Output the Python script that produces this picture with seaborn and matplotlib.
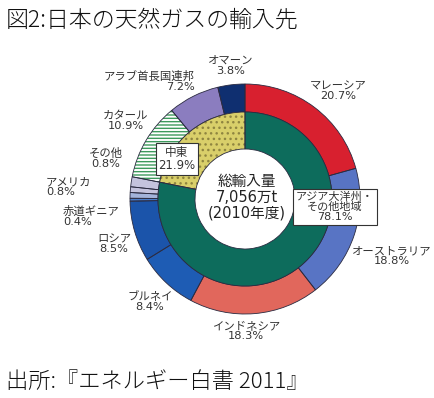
"""
日本の天然ガスの輸入先 (2010年度) — 二重ドーナツグラフ
"""

import matplotlib
matplotlib.use("Agg")
import matplotlib.pyplot as plt
import seaborn as sns

# ---- データ ----
regions = ["アジア大洋州・\nその他地域", "中東"]
region_share = [78.1, 21.9]

countries = ["マレーシア", "オーストラリア", "インドネシア", "ブルネイ", "ロシア",
             "赤道ギニア", "アメリカ", "その他",
             "カタール", "アラブ首長国連邦", "オマーン"]
country_share = [20.7, 18.8, 18.3, 8.4, 8.5, 0.4, 0.8, 0.8, 10.9, 7.2, 3.8]
n_asia = 8  # 先頭8か国がアジア大洋州・その他地域

total_label = "総輸入量\n7,056万t\n(2010年度)"
title = "図2:日本の天然ガスの輸入先"
source = "出所:『エネルギー白書 2011』"

# 表示されていない残り(地域合計と国別合計の差)
residual = round(region_share[0] - sum(country_share[:n_asia]), 1)
outer_vals = country_share[:n_asia] + [residual] + country_share[n_asia:]

# ---- スタイル ----
sns.set_theme(style="white")
plt.rcParams["font.family"] = ["Noto Sans CJK JP", "DejaVu Sans"]
lab_font = ["DejaVu Sans", "Noto Sans CJK JP"]   # 数字は幅広のDejaVuで

country_colors = ["#d8202f", "#5874c4", "#e1675c", "#1e5cb4", "#1b54aa",
                  "#4a7cc8", "#a3b3da", "#c4c3dd",
                  "#ffffff", "#8b7dbf", "#0f2f70"]
outer_colors = country_colors[:n_asia] + [country_colors[n_asia - 1]] + country_colors[n_asia:]
outer_hatch = [None] * len(outer_vals)
outer_hatch[n_asia + 1] = "-----"          # カタール
outer_hatch_col = ["none"] * len(outer_vals)
outer_hatch_col[n_asia + 1] = "#3d9a5c"

region_colors = ["#0d6c5c", "#d9cf6a"]

W, H = 435, 398
fig = plt.figure(figsize=(W / 100, H / 100), dpi=100)
ax = fig.add_axes([0, 0, 1, 1])
ax.axis("off")

cx, cy = 245, 199
r_out, r_mid, r_in = 115, 87, 50

# 外側リング (国別) — y軸反転のため startangle=-90, counterclock=True で12時から時計回り
wedges, _ = ax.pie(outer_vals, colors=outer_colors, radius=r_out, center=(cx, cy),
                   startangle=-90, counterclock=True, normalize=True,
                   wedgeprops=dict(width=r_out - r_mid, linewidth=0))
for w, h, hc in zip(wedges, outer_hatch, outer_hatch_col):
    if h:
        w.set_hatch(h)
        w.set_edgecolor(hc)
ax.pie(outer_vals, colors=["none"] * len(outer_vals), radius=r_out, center=(cx, cy),
       startangle=-90, counterclock=True, normalize=True,
       wedgeprops=dict(width=r_out - r_mid, linewidth=0.6, edgecolor="#2a2a40"))

# 内側リング (地域別)
iw, _ = ax.pie(region_share, colors=region_colors, radius=r_mid, center=(cx, cy),
               startangle=-90, counterclock=True,
               wedgeprops=dict(width=r_mid - r_in, linewidth=0))
iw[1].set_hatch("...")
iw[1].set_edgecolor("#8f8540")
ax.pie(region_share, colors=["none", "none"], radius=r_mid, center=(cx, cy),
       startangle=-90, counterclock=True,
       wedgeprops=dict(width=r_mid - r_in, linewidth=0.6, edgecolor="#2a2a40"))

ax.set_xlim(0, W)
ax.set_ylim(H, 0)   # ピクセル座標 (上が0)
ax.set_aspect("equal")

# ---- 文字 ----
txt = "#333333"
label_pos = {
    "マレーシア": (338, 91, "center"),
    "オーストラリア": (392, 256, "center"),
    "インドネシア": (246, 331, "center"),
    "ブルネイ": (150, 302, "center"),
    "ロシア": (114, 244, "center"),
    "赤道ギニア": (63, 216, "left"),
    "アメリカ": (46, 187, "left"),
    "その他": (106, 158, "center"),
    "カタール": (126, 121, "center"),
    "アラブ首長国連邦": (195, 81, "right"),
    "オマーン": (231, 66, "center"),
}
for name, share in zip(countries, country_share):
    x, y, ha = label_pos[name]
    ax.text(x, y, f"{name}\n{share}%", ha=ha, va="center", fontsize=8.2,
            family=lab_font, color=txt, linespacing=1.0)

ax.text(cx + 2, 197, total_label, ha="center", va="center", fontsize=10.5,
        family=lab_font, color="#222222", linespacing=1.05)

box = dict(boxstyle="square,pad=0.25", facecolor="white", edgecolor="#333333", linewidth=0.8)
ax.text(177, 159, f"{regions[1]}\n{region_share[1]}%", ha="center", va="center",
        fontsize=8.4, family=lab_font, color=txt, linespacing=1.0, bbox=box)
ax.text(335, 207, f"{regions[0]}\n{region_share[0]}%", ha="center", va="center",
        fontsize=8, family=lab_font, color=txt, linespacing=1.0, bbox=box)

ax.text(6, 20, title, ha="left", va="center", fontsize=16.5, color="#111111",
        fontweight="light")
ax.text(6, 382, source, ha="left", va="center", fontsize=16, color="#111111",
        fontweight="light")

fig.savefig("out.png", dpi=100)
plt.close(fig)
